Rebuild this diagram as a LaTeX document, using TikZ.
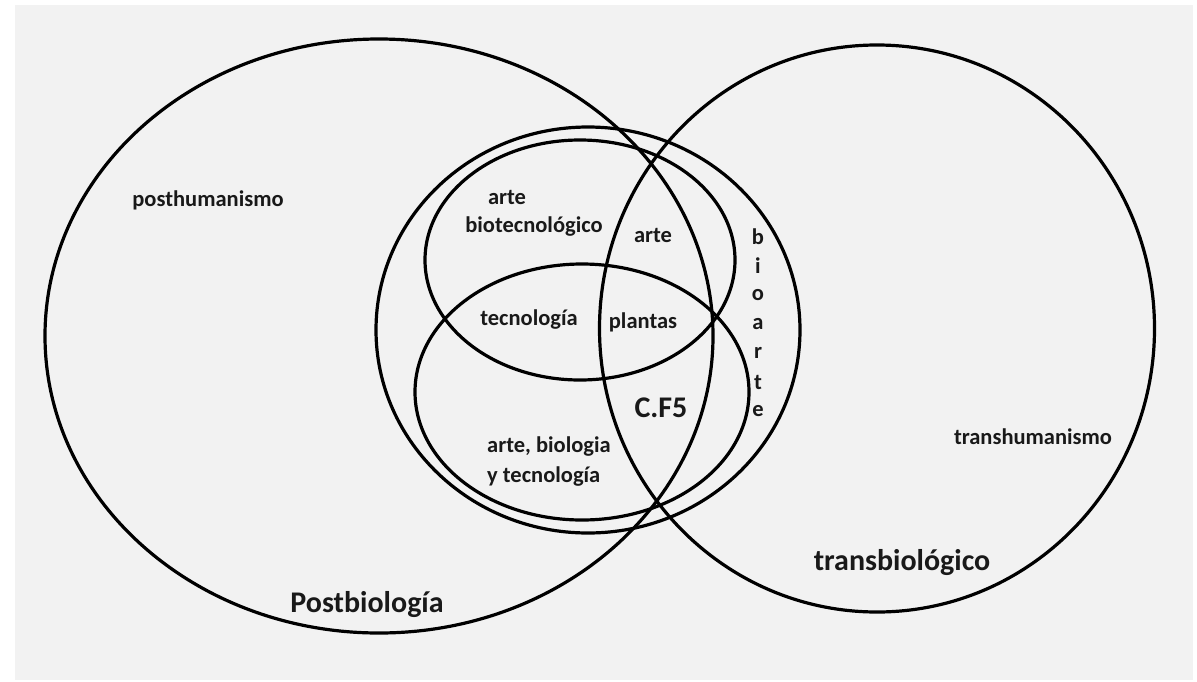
\documentclass[tikz,border=0pt]{standalone}
\usepackage{fontspec}
\setmainfont{Carlito}
\begin{document}
\begin{tikzpicture}[x=1pt,y=-1pt,
  ring/.style={draw=black,line width=3.2pt},
  lbl/.style={text=black!90,font=\fontsize{22.5}{27}\selectfont\bfseries,inner sep=0pt},
  biglbl/.style={text=black!90,font=\fontsize{30}{36}\selectfont\bfseries,inner sep=0pt}]
\useasboundingbox (0,0) rectangle (1197,681);
\fill[white] (0,0) rectangle (1197,681);
\fill[black!5] (15,5) rectangle (1193,680);
% large sets
\draw[ring] (379,336) ellipse [x radius=334, y radius=297];
\draw[ring] (877,328.5) ellipse [x radius=277.5, y radius=283.5];
% inner sets
\draw[ring] (588,330) ellipse [x radius=212, y radius=203];
\draw[ring] (580,260) ellipse [x radius=155, y radius=120];
\draw[ring] (582,392) ellipse [x radius=167, y radius=128];
% labels
\node[lbl] (posth) at (208,200) {posthumanismo};
\node[lbl] (transh) at (1033,437) {transhumanismo};
\node[biglbl] (transb) at (902,563) {transbiológico};
\node[biglbl] (postb) at (367,605) {Postbiología};
\node[lbl] (arte1) at (507,197) {arte};
\node[lbl] (biotec) at (534,227) {biotecnológico};
\node[lbl] (arte2) at (653,235) {arte};
\node[lbl] (tecno) at (529,320) {tecnología};
\node[lbl] (plantas) at (643,322) {plantas};
\node[biglbl] (cf5) at (661,408) {C.F5};
\node[lbl,anchor=west] (abt1) at (487,447) {arte, biologia};
\node[lbl,anchor=west] (abt2) at (487,477) {y tecnología};
\foreach \ch [count=\i from 0] in {b,i,o,a,r,t,e}
  \node[lbl] (bio\i) at (758,237+29*\i) {\ch};
\end{tikzpicture}
\end{document}
